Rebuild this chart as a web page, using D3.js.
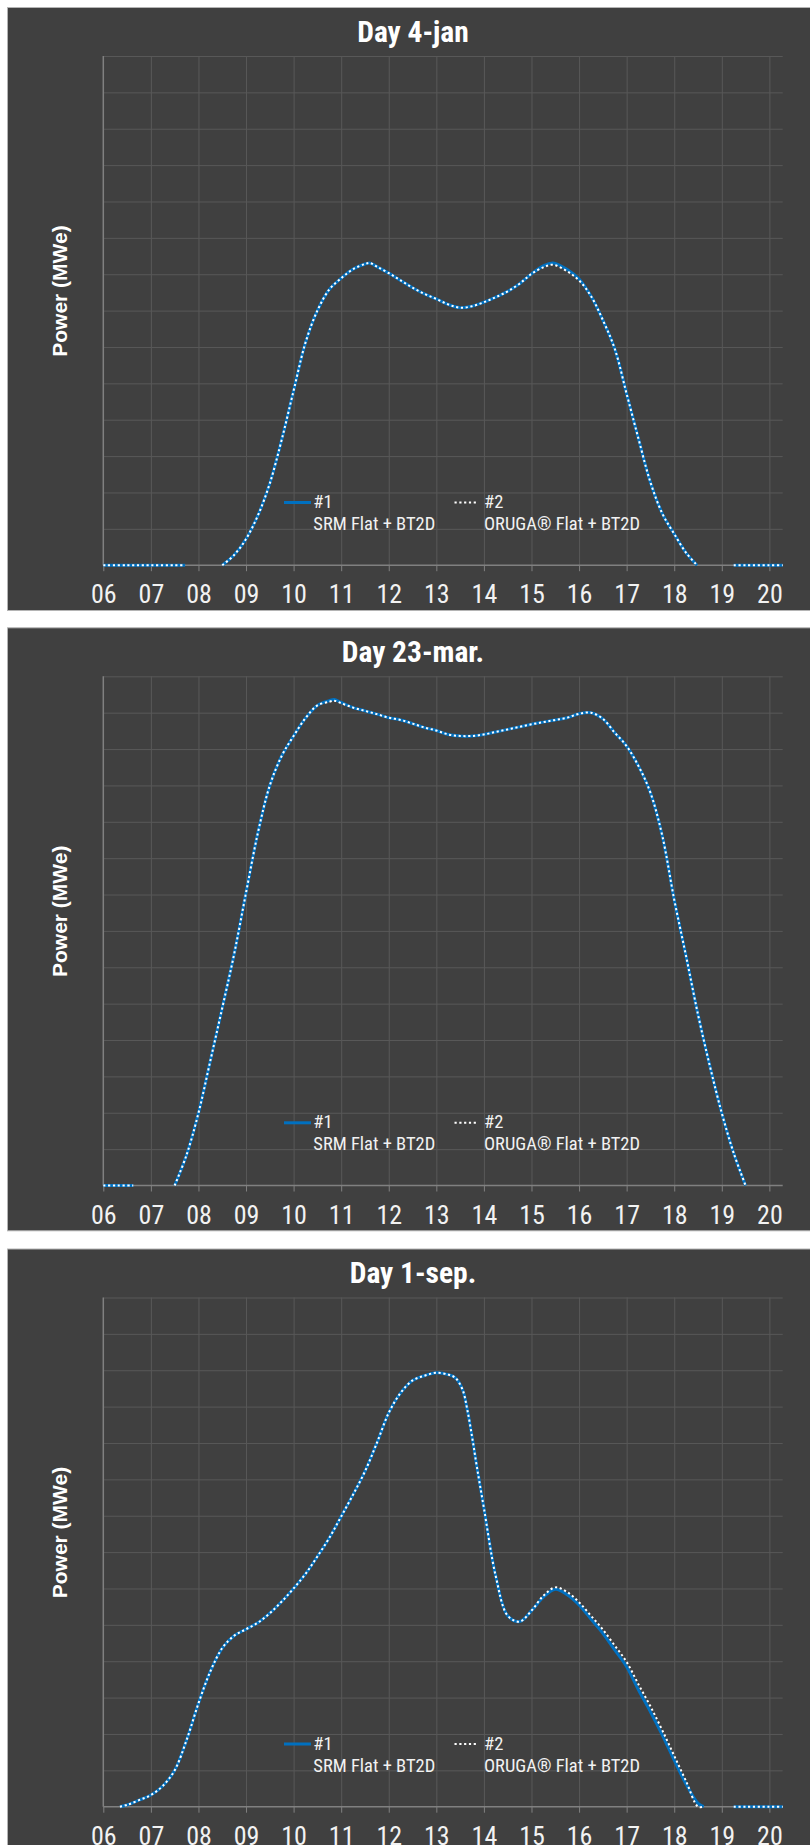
<!DOCTYPE html>
<html>
<head>
<meta charset="utf-8">
<script src="https://cdn.jsdelivr.net/npm/d3@7/dist/d3.min.js"></script>
<style>
  html, body { margin: 0; padding: 0; background: #ffffff; }
  svg { display: block; }
</style>
</head>
<body>
<svg id="chart" width="810" height="1845"></svg>
<script>
// ---- Day 4-jan : hours and power of both configurations (null = no data) ----
const janHours = [6, 6.5, 7, 7.5, 7.72, 8, 8.5, 8.75, 9, 9.25, 9.5, 9.75, 10, 10.25, 10.5, 10.75, 11, 11.25, 11.5, 11.6,
  11.75, 12, 12.25, 12.5, 12.75, 13, 13.25, 13.5, 13.75, 14, 14.25, 14.5, 14.75, 15, 15.25, 15.45,
  15.75, 16, 16.25, 16.5, 16.75, 17, 17.25, 17.5, 17.75, 18, 18.25, 18.48, 19, 19.25, 19.5, 20, 20.28];
const janSRM = [0, 0, 0, 0, 0, null, 0, 0.28, 0.72, 1.37, 2.25, 3.45, 4.80, 6.12, 7.00, 7.58, 7.89, 8.14, 8.28, 8.31,
  8.21, 8.03, 7.83, 7.63, 7.46, 7.32, 7.17, 7.08, 7.12, 7.23, 7.37, 7.53, 7.74, 8.01, 8.23, 8.31,
  8.13, 7.87, 7.40, 6.74, 5.95, 4.71, 3.47, 2.28, 1.42, 0.86, 0.34, 0, null, 0, 0, 0, 0];
const janORUGA = [0, 0, 0, 0, 0, null, 0, 0.28, 0.72, 1.37, 2.25, 3.45, 4.80, 6.12, 7.00, 7.58, 7.89, 8.14, 8.28, 8.31,
  8.21, 8.03, 7.83, 7.63, 7.46, 7.32, 7.17, 7.08, 7.12, 7.23, 7.37, 7.53, 7.74, 8.01, 8.19, 8.26,
  8.08, 7.83, 7.40, 6.74, 5.95, 4.71, 3.47, 2.28, 1.42, 0.86, 0.34, 0, null, 0, 0, 0, 0];

// ---- Day 23-mar. ----
const marHours = [6, 6.3, 6.63, 7, 7.5, 7.75, 8, 8.25, 8.5, 8.75, 9, 9.25, 9.5, 9.75, 10, 10.25, 10.5, 10.75, 10.85,
  11, 11.25, 11.5, 11.75, 12, 12.25, 12.5, 12.75, 13, 13.25, 13.5, 13.75, 14, 14.25, 14.5, 14.75, 15,
  15.25, 15.5, 15.75, 16, 16.25, 16.5, 16.75, 17, 17.25, 17.5, 17.75, 18, 18.25, 18.5, 18.75, 19, 19.25, 19.5];
const marSRM = [0, 0, 0, null, 0, 0.84, 1.99, 3.43, 4.88, 6.36, 8.05, 9.70, 11.00, 11.81, 12.36, 12.85, 13.20, 13.33, 13.36,
  13.28, 13.14, 13.05, 12.96, 12.86, 12.80, 12.70, 12.59, 12.51, 12.40, 12.36, 12.36, 12.40, 12.47, 12.54, 12.61, 12.68,
  12.74, 12.80, 12.86, 12.97, 13.00, 12.83, 12.45, 12.08, 11.53, 10.80, 9.61, 7.86, 6.30, 4.70, 3.28, 1.99, 0.89, 0];
const marORUGA = [0, 0, 0, null, 0, 0.84, 1.99, 3.43, 4.88, 6.36, 8.05, 9.70, 11.00, 11.81, 12.36, 12.85, 13.20, 13.30, 13.33,
  13.26, 13.14, 13.05, 12.96, 12.86, 12.80, 12.70, 12.59, 12.51, 12.40, 12.36, 12.36, 12.40, 12.47, 12.54, 12.61, 12.68,
  12.74, 12.80, 12.86, 12.97, 13.00, 12.83, 12.45, 12.08, 11.53, 10.80, 9.61, 7.86, 6.30, 4.70, 3.28, 1.99, 0.89, 0];

// ---- Day 1-sep. ----
const sepHours = [6.35, 6.5, 6.75, 7, 7.25, 7.5, 7.75, 8, 8.25, 8.5, 8.75, 9, 9.25, 9.5, 9.75, 10, 10.25, 10.5, 10.75,
  11, 11.25, 11.5, 11.75, 12, 12.25, 12.5, 12.75, 13, 13.25, 13.4, 13.55, 13.65, 13.75, 13.85, 14, 14.25, 14.5,
  14.75, 15, 15.25, 15.5, 15.75, 16, 16.25, 16.5, 16.75, 17, 17.25, 17.5, 17.75, 18, 18.25, 18.5, 18.62,
  19, 19.25, 19.5, 20, 20.28];
const sepSRM = [0, 0.05, 0.18, 0.32, 0.57, 1.00, 1.83, 2.84, 3.72, 4.36, 4.70, 4.88, 5.06, 5.32, 5.64, 6.00, 6.40, 6.88, 7.39,
  7.98, 8.58, 9.22, 10.00, 10.83, 11.38, 11.72, 11.85, 11.93, 11.88, 11.79, 11.47, 10.92, 10.18, 9.36, 8.21, 6.33, 5.25,
  5.09, 5.39, 5.76, 5.98, 5.83, 5.55, 5.16, 4.77, 4.31, 3.85, 3.21, 2.61, 1.97, 1.28, 0.62, 0.09, 0,
  null, 0, 0, 0, 0];
const sepORUGA = [0, 0.05, 0.18, 0.32, 0.57, 1.00, 1.83, 2.84, 3.72, 4.36, 4.70, 4.88, 5.06, 5.32, 5.64, 6.00, 6.40, 6.88, 7.39,
  7.98, 8.58, 9.22, 10.00, 10.83, 11.38, 11.72, 11.85, 11.93, 11.88, 11.79, 11.47, 10.92, 10.18, 9.36, 8.21, 6.33, 5.25,
  5.09, 5.39, 5.80, 6.03, 5.90, 5.62, 5.25, 4.87, 4.43, 3.98, 3.36, 2.76, 2.10, 1.40, 0.70, 0, 0,
  null, 0, 0, 0, 0];

// ---- text ----
const dayTitles = ["Day 4-jan", "Day 23-mar.", "Day 1-sep."];
const yTitle = "Power (MWe)";
const hourTicks = [6, 7, 8, 9, 10, 11, 12, 13, 14, 15, 16, 17, 18, 19, 20];
const hourLabels = ["06", "07", "08", "09", "10", "11", "12", "13", "14", "15", "16", "17", "18", "19", "20"];
const powerGrid = [1, 2, 3, 4, 5, 6, 7, 8, 9, 10, 11, 12, 13, 14];
const seriesIds = ["#1", "#2"];
const seriesNames = ["SRM Flat + BT2D", "ORUGA\u00AE Flat + BT2D"];

// ---- styling ----
const COND = "'Liberation Sans Narrow','Arial Narrow','Roboto Condensed','DejaVu Sans Condensed',sans-serif";
const BOLD = "'Liberation Sans',Arial,sans-serif";
const PANEL_BG = "#404040";
const GRID = "#585858";
const AXIS = "#808080";
const BLUE = "#0070C0";
const TEXT = "#f2f2f2";

const panels = [
  { title: dayTitles[0], hours: janHours, a: janSRM, b: janORUGA, top: 7 },
  { title: dayTitles[1], hours: marHours, a: marSRM, b: marORUGA, top: 627.3 },
  { title: dayTitles[2], hours: sepHours, a: sepSRM, b: sepORUGA, top: 1248.5 }
];

const svg = d3.select("#chart");
const plotTop = 49, plotBottom = 558.2;
const x = d3.scaleLinear().domain([6, 20.28]).range([103.3, 782.7]);
const y = d3.scaleLinear().domain([0, 14]).range([plotBottom, plotTop]);

const line = d3.line()
  .defined(d => d.v !== null)
  .x(d => x(d.h))
  .y(d => y(d.v))
  .curve(d3.curveCatmullRom.alpha(0.5));

panels.forEach(p => {
  const g = svg.append("g").attr("transform", `translate(0,${p.top})`);

  // panel background
  g.append("rect")
    .attr("x", 7.5).attr("y", 0.5)
    .attr("width", 830).attr("height", 603)
    .attr("fill", PANEL_BG)
    .attr("stroke", "#b4b4b4").attr("stroke-width", 1);

  // horizontal grid
  g.append("g")
    .attr("transform", `translate(${x.range()[0]},0)`)
    .call(d3.axisLeft(y).tickValues(powerGrid).tickSize(-(x.range()[1] - x.range()[0])).tickFormat(""))
    .call(s => s.select(".domain").remove())
    .call(s => s.selectAll("line").attr("stroke", GRID).attr("stroke-width", 1));

  // vertical grid
  g.append("g")
    .attr("transform", `translate(0,${plotBottom})`)
    .call(d3.axisBottom(x).tickValues(hourTicks.slice(1)).tickSize(-(plotBottom - plotTop)).tickFormat(""))
    .call(s => s.select(".domain").remove())
    .call(s => s.selectAll("line").attr("stroke", GRID).attr("stroke-width", 1));

  // left axis line
  g.append("line")
    .attr("x1", x(6)).attr("x2", x(6))
    .attr("y1", plotTop).attr("y2", plotBottom)
    .attr("stroke", AXIS).attr("stroke-width", 1.5);

  // bottom axis with hour labels
  const ax = g.append("g")
    .attr("transform", `translate(0,${plotBottom})`)
    .call(d3.axisBottom(x).tickValues(hourTicks).tickSize(6).tickSizeOuter(0)
      .tickFormat((d, i) => hourLabels[i]));
  ax.select(".domain").attr("stroke", AXIS).attr("stroke-width", 1.5)
    .attr("d", `M${x(6)},0H${x.range()[1]}`);
  ax.selectAll(".tick line").attr("stroke", AXIS).attr("stroke-width", 1);
  ax.selectAll(".tick text")
    .attr("y", 38.3).attr("dy", null)
    .attr("fill", TEXT)
    .style("font-family", COND)
    .style("font-size", "26px");

  // series
  const dataA = p.hours.map((h, i) => ({ h, v: p.a[i] }));
  const dataB = p.hours.map((h, i) => ({ h, v: p.b[i] }));
  g.append("path").datum(dataA)
    .attr("d", line).attr("fill", "none")
    .attr("stroke", BLUE).attr("stroke-width", 3);
  g.append("path").datum(dataB)
    .attr("d", line).attr("fill", "none")
    .attr("stroke", "#ffffff").attr("stroke-width", 2)
    .attr("stroke-dasharray", "2.2,2.6");

  // title
  g.append("text")
    .attr("x", 413).attr("y", 34.6)
    .attr("text-anchor", "middle")
    .attr("fill", "#ffffff")
    .style("font-family", COND)
    .style("font-weight", "bold")
    .style("font-size", "29.5px")
    .text(p.title);

  // y title
  g.append("text")
    .attr("transform", "translate(66.5,284) rotate(-90)")
    .attr("text-anchor", "middle")
    .attr("fill", "#ffffff")
    .style("font-family", BOLD)
    .style("font-weight", "bold")
    .style("font-size", "21px")
    .text(yTitle);

  // legend
  const lg = g.append("g").attr("transform", "translate(0,495.5)");
  lg.append("line").attr("x1", 284).attr("x2", 311).attr("y1", 0).attr("y2", 0)
    .attr("stroke", BLUE).attr("stroke-width", 3);
  lg.append("line").attr("x1", 454.5).attr("x2", 477).attr("y1", 0).attr("y2", 0)
    .attr("stroke", "#ffffff").attr("stroke-width", 2).attr("stroke-dasharray", "2.2,2.6");
  [[313.3, 0], [484, 1]].forEach(([lx, i]) => {
    lg.append("text").attr("x", lx).attr("y", 5.5)
      .attr("fill", TEXT).style("font-family", COND).style("font-size", "18.5px")
      .text(seriesIds[i]);
    lg.append("text").attr("x", lx).attr("y", 27.7)
      .attr("fill", TEXT).style("font-family", COND).style("font-size", "18.5px")
      .text(seriesNames[i]);
  });
});
</script>
</body>
</html>
